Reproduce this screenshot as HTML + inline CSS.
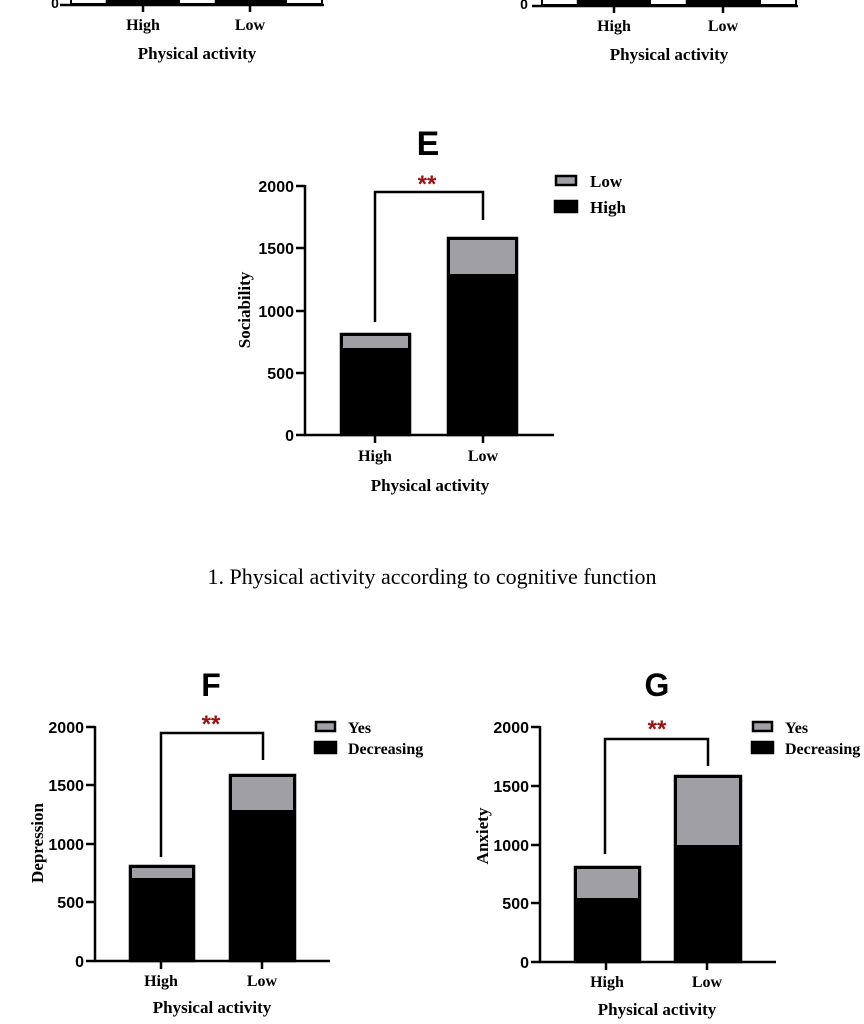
<!DOCTYPE html>
<html><head><style>body{margin:0;background:#fff}svg{display:block}</style></head><body>
<svg width="864" height="1024" xmlns="http://www.w3.org/2000/svg">
<g font-family="Liberation Serif, serif" font-weight="bold" font-size="15" text-anchor="middle">
<!-- top strip -->
<g stroke="#000" stroke-width="2.5" fill="none">
<line x1="60" y1="5" x2="324" y2="5"/><line x1="143" y1="5" x2="143" y2="12"/><line x1="250" y1="5" x2="250" y2="12"/>
<rect x="71" y="-5" width="36" height="9" fill="#fff" stroke-width="2"/>
<rect x="107" y="-5" width="72" height="9" fill="#000"/>
<rect x="179" y="-5" width="37" height="9" fill="#fff" stroke-width="2"/>
<rect x="216" y="-5" width="70" height="9" fill="#000"/>
<rect x="286" y="-5" width="36" height="9" fill="#fff" stroke-width="2"/>
<line x1="532" y1="6" x2="798" y2="6"/><line x1="614" y1="6" x2="614" y2="13"/><line x1="723" y1="6" x2="723" y2="13"/>
<rect x="542" y="-5" width="36" height="10" fill="#fff" stroke-width="2"/>
<rect x="578" y="-5" width="72" height="10" fill="#000"/>
<rect x="650" y="-5" width="37" height="10" fill="#fff" stroke-width="2"/>
<rect x="687" y="-5" width="73" height="10" fill="#000"/>
<rect x="760" y="-5" width="36" height="10" fill="#fff" stroke-width="2"/>
</g>
<text x="55" y="8" font-family="Liberation Sans, sans-serif" font-size="14">0</text>
<text x="524" y="9" font-family="Liberation Sans, sans-serif" font-size="14">0</text>
<text x="143" y="30" font-size="16">High</text><text x="250" y="30" font-size="16">Low</text>
<text x="197" y="59" font-size="17">Physical activity</text>
<text x="614" y="31" font-size="16">High</text><text x="723" y="31" font-size="16">Low</text>
<text x="669" y="60" font-size="17">Physical activity</text>

<!-- E -->
<text x="428" y="155" font-family="Liberation Sans, sans-serif" font-size="34">E</text>
<g stroke="#000" stroke-width="2.5" fill="none">
<line x1="305" y1="185" x2="305" y2="436"/><line x1="304" y1="435" x2="554" y2="435"/>
<line x1="296" y1="186" x2="305" y2="186"/><line x1="296" y1="248" x2="305" y2="248"/><line x1="296" y1="311" x2="305" y2="311"/><line x1="296" y1="373" x2="305" y2="373"/><line x1="296" y1="435" x2="305" y2="435"/>
<line x1="375" y1="435" x2="375" y2="443"/><line x1="483" y1="435" x2="483" y2="443"/>
<rect x="341" y="334" width="69" height="101" fill="#000"/><rect x="343" y="336" width="65" height="12" fill="#a0a0a4" stroke="none"/>
<rect x="448" y="238" width="69" height="197" fill="#000"/><rect x="450" y="240" width="65" height="34" fill="#a0a0a4" stroke="none"/>
<polyline points="375,322 375,192 483,192 483,220"/>
<rect x="556" y="176" width="20" height="9" fill="#a0a0a4"/><rect x="555" y="201" width="22" height="11" fill="#000"/>
</g>
<text x="427" y="192" fill="#9b1111" font-family="Liberation Sans, sans-serif" font-size="24">**</text>
<g font-family="Liberation Sans, sans-serif" font-size="16" text-anchor="end">
<text x="294" y="192">2000</text><text x="294" y="254">1500</text><text x="294" y="317">1000</text><text x="294" y="379">500</text><text x="294" y="441">0</text></g>
<text x="375" y="461" font-size="16">High</text><text x="483" y="461" font-size="16">Low</text>
<text x="430" y="491" font-size="17">Physical activity</text>
<text transform="translate(250,310) rotate(-90)" font-size="17">Sociability</text>
<text x="590" y="187" text-anchor="start" font-size="17">Low</text><text x="590" y="213" text-anchor="start" font-size="17">High</text>

<text x="432" y="584" font-weight="normal" font-size="22">1. Physical activity according to cognitive function</text>

<!-- F -->
<text x="211" y="696" font-family="Liberation Sans, sans-serif" font-size="32">F</text>
<g stroke="#000" stroke-width="2.5" fill="none">
<line x1="95" y1="726" x2="95" y2="962"/><line x1="94" y1="961" x2="330" y2="961"/>
<line x1="86" y1="727" x2="95" y2="727"/><line x1="86" y1="785" x2="95" y2="785"/><line x1="86" y1="844" x2="95" y2="844"/><line x1="86" y1="902" x2="95" y2="902"/><line x1="86" y1="961" x2="95" y2="961"/>
<line x1="161" y1="961" x2="161" y2="969"/><line x1="262" y1="961" x2="262" y2="969"/>
<rect x="130" y="866" width="64" height="95" fill="#000"/><rect x="132" y="868" width="60" height="10" fill="#a0a0a4" stroke="none"/>
<rect x="230" y="775" width="65" height="186" fill="#000"/><rect x="232" y="777" width="61" height="33" fill="#a0a0a4" stroke="none"/>
<polyline points="161,857 161,733 263,733 263,760"/>
<rect x="316" y="722" width="19" height="9" fill="#a0a0a4"/><rect x="315" y="742" width="21" height="11" fill="#000"/>
</g>
<text x="211" y="732" fill="#9b1111" font-family="Liberation Sans, sans-serif" font-size="24">**</text>
<g font-family="Liberation Sans, sans-serif" font-size="16" text-anchor="end">
<text x="84" y="733">2000</text><text x="84" y="791">1500</text><text x="84" y="850">1000</text><text x="84" y="908">500</text><text x="84" y="967">0</text></g>
<text x="161" y="986" font-size="16">High</text><text x="262" y="986" font-size="16">Low</text>
<text x="212" y="1013" font-size="17">Physical activity</text>
<text transform="translate(43,843) rotate(-90)" font-size="17">Depression</text>
<text x="348" y="733" text-anchor="start" font-size="16">Yes</text><text x="348" y="754" text-anchor="start" font-size="16">Decreasing</text>

<!-- G -->
<text x="657" y="696" font-family="Liberation Sans, sans-serif" font-size="32">G</text>
<g stroke="#000" stroke-width="2.5" fill="none">
<line x1="540" y1="726" x2="540" y2="963"/><line x1="539" y1="962" x2="776" y2="962"/>
<line x1="531" y1="727" x2="540" y2="727"/><line x1="531" y1="786" x2="540" y2="786"/><line x1="531" y1="845" x2="540" y2="845"/><line x1="531" y1="903" x2="540" y2="903"/><line x1="531" y1="962" x2="540" y2="962"/>
<line x1="606" y1="962" x2="606" y2="970"/><line x1="707" y1="962" x2="707" y2="970"/>
<rect x="575" y="867" width="65" height="95" fill="#000"/><rect x="577" y="869" width="61" height="29" fill="#a0a0a4" stroke="none"/>
<rect x="675" y="776" width="66" height="186" fill="#000"/><rect x="677" y="778" width="62" height="67" fill="#a0a0a4" stroke="none"/>
<polyline points="605,854 605,739 708,739 708,766"/>
<rect x="753" y="722" width="19" height="9" fill="#a0a0a4"/><rect x="752" y="742" width="21" height="11" fill="#000"/>
</g>
<text x="657" y="737" fill="#9b1111" font-family="Liberation Sans, sans-serif" font-size="24">**</text>
<g font-family="Liberation Sans, sans-serif" font-size="16" text-anchor="end">
<text x="529" y="733">2000</text><text x="529" y="792">1500</text><text x="529" y="851">1000</text><text x="529" y="909">500</text><text x="529" y="968">0</text></g>
<text x="607" y="987" font-size="16">High</text><text x="707" y="987" font-size="16">Low</text>
<text x="657" y="1015" font-size="17">Physical activity</text>
<text transform="translate(488,836) rotate(-90)" font-size="17">Anxiety</text>
<text x="785" y="733" text-anchor="start" font-size="16">Yes</text><text x="785" y="754" text-anchor="start" font-size="16">Decreasing</text>
</g>
</svg>
</body></html>
